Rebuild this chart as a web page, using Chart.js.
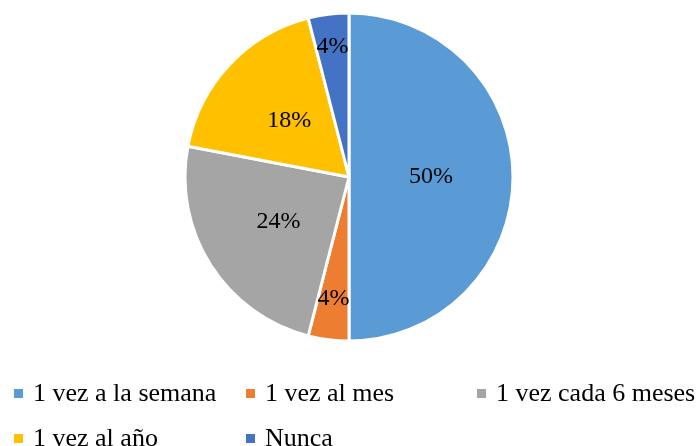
<!DOCTYPE html>
<html>
<head>
<meta charset="utf-8">
<script src="https://cdn.jsdelivr.net/npm/chart.js@4/dist/chart.umd.min.js"></script>
<style>
  html, body { margin: 0; padding: 0; background: #fff; }
  #wrap { width: 698px; height: 446px; position: relative; }
</style>
</head>
<body>
<div id="wrap"><canvas id="myChart"></canvas></div>
<script>
// Chart data
const categories = ['1 vez a la semana', '1 vez al mes', '1 vez cada 6 meses', '1 vez al año', 'Nunca']
const percentages = [50, 4, 24, 18, 4]
const sliceColors = ['#5B9BD5', '#ED7D31', '#A5A5A5', '#FFC000', '#4472C4']

const serif = '"Liberation Serif", "Times New Roman", serif'

// where each percent label sits, as a share of the radius (Excel "best fit")
const labelRadius = [0.5, 0.75, 0.51, 0.5, 0.8]

// legend slots (two rows, like the Excel legend)
const legendSlots = [[14, 389], [246, 389], [477, 389], [14, 434], [246, 434]]

const sliceLabels = {
  id: 'sliceLabels',
  afterDatasetsDraw(chart) {
    const ctx = chart.ctx
    const arcs = chart.getDatasetMeta(0).data
    ctx.save()
    ctx.font = '24px ' + serif
    ctx.fillStyle = '#000'
    ctx.textAlign = 'center'
    ctx.textBaseline = 'middle'
    arcs.forEach((arc, i) => {
      const p = arc.getProps(['x', 'y', 'startAngle', 'endAngle', 'outerRadius'], true)
      const mid = (p.startAngle + p.endAngle) / 2
      const r = p.outerRadius * labelRadius[i]
      ctx.fillText(percentages[i] + '%', p.x + Math.cos(mid) * r, p.y + Math.sin(mid) * r)
    })
    ctx.restore()
  }
}

const customLegend = {
  id: 'customLegend',
  afterDraw(chart) {
    const ctx = chart.ctx
    ctx.save()
    ctx.font = '26px ' + serif
    ctx.textBaseline = 'middle'
    categories.forEach((name, i) => {
      const [x, y] = legendSlots[i]
      ctx.fillStyle = sliceColors[i]
      ctx.fillRect(x, y, 9, 9)
      ctx.fillStyle = '#000'
      ctx.fillText(name, x + 19, y + 5)
    })
    ctx.restore()
  }
}

const ctx = document.getElementById('myChart').getContext('2d')
new Chart(ctx, {
  type: 'pie',
  data: {
    labels: categories,
    datasets: [{
      data: percentages,
      backgroundColor: sliceColors,
      borderColor: '#ffffff',
      borderWidth: 3
    }]
  },
  options: {
    responsive: true,
    maintainAspectRatio: false,
    animation: false,
    radius: 164,
    layout: { padding: { top: 0, bottom: 92, left: 0, right: 0 } },
    plugins: {
      legend: { display: false },
      tooltip: { enabled: false }
    }
  },
  plugins: [sliceLabels, customLegend]
})
</script>
</body>
</html>
